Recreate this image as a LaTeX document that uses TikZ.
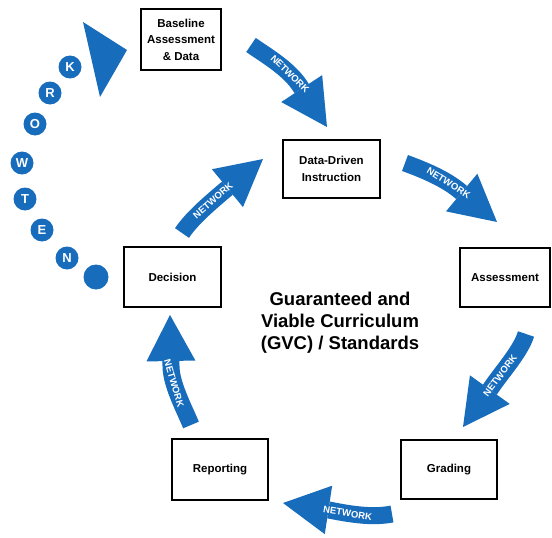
\documentclass[tikz,border=0pt]{standalone}
\usepackage{fontspec}
\setmainfont{Liberation Sans}
\usetikzlibrary{arrows.meta}
\definecolor{netblue}{RGB}{24,108,188}

\begin{document}
\begin{tikzpicture}[x=1pt,y=-1pt,
  cyclebox/.style={draw=black,line width=1.6pt,fill=white,align=center,inner sep=2pt,
    font=\fontsize{11.5}{16.5}\selectfont\bfseries},
  netarrow/.style={draw=netblue,line width=17pt,line join=round,
    -{Triangle[length=46pt,width=49pt,line width=0pt]}},
  netlabel/.style={font=\fontsize{9.5}{10}\selectfont\bfseries,text=white,sloped,inner sep=0pt},
  letterdot/.style={circle,fill=netblue,minimum size=23pt,inner sep=0pt,text=white,
    font=\fontsize{13}{13}\selectfont\bfseries}]
\useasboundingbox (0,0) rectangle (552,538);

% Boxes of the cycle
\node[cyclebox,minimum width=80pt,minimum height=61pt] (base) at (181,39.5) {Baseline\\Assessment\\\& Data};
\node[cyclebox,minimum width=97pt,minimum height=58pt] (ddi) at (331.5,169) {Data-Driven\\Instruction};
\node[cyclebox,minimum width=90pt,minimum height=59pt] (assess) at (505,277.5) {Assessment};
\node[cyclebox,minimum width=96pt,minimum height=59pt] (grade) at (449,469.5) {Grading};
\node[cyclebox,minimum width=96pt,minimum height=61pt] (report) at (220,469.5) {Reporting};
\node[cyclebox,minimum width=97pt,minimum height=60pt] (decide) at (172.5,277) {Decision};

% Centre text
\node[align=center,font=\fontsize{18.5}{22}\selectfont\bfseries] (gvc) at (340,323)
  {Guaranteed and\\Viable Curriculum\\(GVC) / Standards};

% Network arrows
\coordinate (a1s) at (251,45);  \coordinate (a1b) at (300,86);  \coordinate (a1t) at (327,127);
\coordinate (a2s) at (405,163); \coordinate (a2b) at (461,192); \coordinate (a2t) at (497,222);
\coordinate (a3s) at (526,334); \coordinate (a3b) at (491,388); \coordinate (a3t) at (463,427);
\coordinate (a4s) at (392,514); \coordinate (a4b) at (329,510); \coordinate (a4t) at (283,503);
\coordinate (a5s) at (191,425); \coordinate (a5b) at (171,366); \coordinate (a5t) at (170,315);
\coordinate (a6s) at (182,233); \coordinate (a6b) at (224,191); \coordinate (a6t) at (263,159);

\draw[netarrow] (a1s) .. controls (267,56) and (289,69) .. node[netlabel,pos=0.75]{NETWORK} (a1b) -- (a1t);
\draw[netarrow] (a2s) .. controls (424,170) and (446,179) .. node[netlabel,pos=0.75]{NETWORK} (a2b) -- (a2t);
\draw[netarrow] (a3s) .. controls (521,351) and (501,373) .. node[netlabel,pos=0.75]{NETWORK} (a3b) -- (a3t);
\draw[netarrow] (a4s) .. controls (372,518) and (349,514) .. node[netlabel,pos=0.7]{NETWORK} (a4b) -- (a4t);
\draw[netarrow] (a5s) .. controls (184,408) and (171,384) .. node[netlabel,pos=0.7]{NETWORK} (a5b) -- (a5t);
\draw[netarrow] (a6s) .. controls (192,218) and (210,203) .. node[netlabel,pos=0.75]{NETWORK} (a6b) -- (a6t);

% NETWORK spelled in dots
\node[letterdot,minimum size=25pt] (dot0) at (96,277) {};
\foreach \ltr/\px/\py [count=\i] in {N/67/258,E/42/230,T/25/199,W/22/163,O/35/124,R/50/93,K/70/67}
  \node[letterdot] (dot\i) at (\px,\py) {\ltr};
\fill[netblue] (83,22) -- (127,50) -- (100,97) -- cycle;
\end{tikzpicture}
\end{document}
